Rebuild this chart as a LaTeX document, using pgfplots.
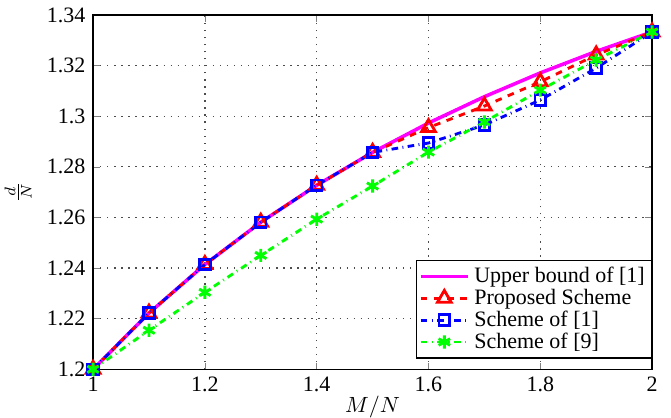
\documentclass[border=0pt]{standalone}
\usepackage{fontspec}
\setmainfont{Liberation Serif}
\usepackage{pgfplots}
\pgfplotsset{compat=1.18}
\definecolor{mmag}{rgb}{1,0,1}
\definecolor{mgreen}{rgb}{0,1,0}
\definecolor{mblue}{rgb}{0,0,1}
\definecolor{mred}{rgb}{1,0,0}
\begin{document}
\begin{tikzpicture}
\begin{axis}[
  scale only axis,
  width=254pt, height=161pt,
  xmin=1, xmax=2, ymin=1.2, ymax=1.34,
  xtick={1,1.2,...,2.01},
  ytick={1.2,1.22,1.24,1.26,1.28,1.3,1.32,1.34},
  /pgf/number format/assume math mode=true,
  yticklabel style={/pgf/number format/precision=2},
  tick align=inside,
  tickpos=both,
  major tick length=3pt,
  grid=major,
  major grid style={black!70, line width=0.6pt, dash pattern=on 0.6pt off 2.6pt},
  axis line style={line width=0.6pt},
  xlabel={$M/N$},
  ylabel={$\frac{d}{N}$},
  xlabel style={yshift=5pt},
  ylabel style={yshift=0pt},
  legend style={at={(1,0.03)}, anchor=south east, draw=black, line width=0.6pt, inner sep=1pt, row sep=-2.6pt, font=\normalsize},
  legend cell align=left,
  legend image code/.code={\draw[mark repeat=2,mark phase=2,#1] plot coordinates {(0cm,0cm) (0.38cm,0cm) (0.76cm,0cm)};},
]
\addplot[mmag, line width=1.6pt] coordinates {
(1.0,1.2000) (1.1,1.2222) (1.2,1.2414) (1.3,1.2581) (1.4,1.2727) (1.5,1.2857)
(1.6,1.2973) (1.7,1.3077) (1.8,1.3171) (1.9,1.3256) (2.0,1.3333)};
\addlegendentry{Upper bound of [1]}
\addplot[mred, dashed, line width=1.3pt, mark=triangle, mark size=3.6pt, mark options={solid, line width=1.3pt}] coordinates {
(1.0,1.2000) (1.1,1.2222) (1.2,1.2414) (1.3,1.2581) (1.4,1.2727) (1.5,1.2857)
(1.6,1.2955) (1.7,1.3040) (1.8,1.3136) (1.9,1.3242) (2.0,1.3333)};
\addlegendentry{Proposed Scheme}
\addplot[mblue, dash dot, line width=1.3pt, mark=square, mark size=2.4pt, mark options={solid, line width=1.3pt}] coordinates {
(1.0,1.2000) (1.1,1.2222) (1.2,1.2414) (1.3,1.2581) (1.4,1.2727) (1.5,1.2857)
(1.6,1.2894) (1.7,1.2965) (1.8,1.3064) (1.9,1.3190) (2.0,1.3333)};
\addlegendentry{Scheme of [1]}
\addplot[mgreen, dash dot, line width=1.3pt, mark=asterisk, mark size=3pt, mark options={solid, line width=1.3pt}] coordinates {
(1.0,1.2000) (1.1,1.2154) (1.2,1.2304) (1.3,1.2450) (1.4,1.2593) (1.5,1.2724)
(1.6,1.2858) (1.7,1.2977) (1.8,1.3103) (1.9,1.3222) (2.0,1.3333)};
\addlegendentry{Scheme of [9]}
\end{axis}
\pgfresetboundingbox
\path ([shift={(-42.3pt,-21.8pt)}]current axis.south west) rectangle ([shift={(8.6pt,6.8pt)}]current axis.north east);
\end{tikzpicture}
\end{document}
